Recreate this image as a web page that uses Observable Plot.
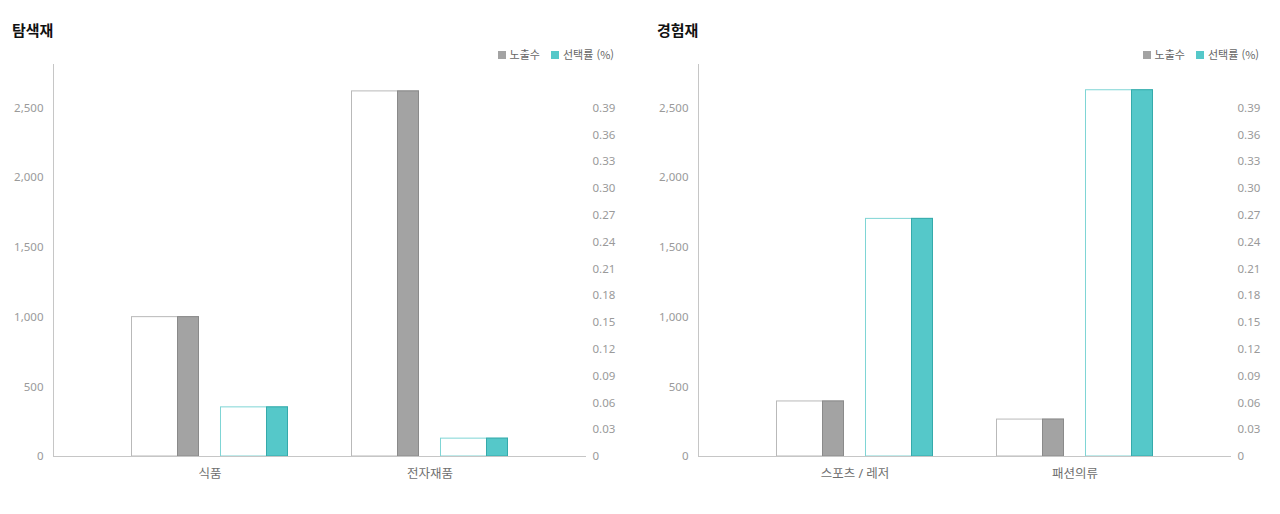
<!DOCTYPE html>
<html lang="ko">
<head>
<meta charset="utf-8">
<script src="https://cdn.jsdelivr.net/npm/d3@7"></script>
<script src="https://cdn.jsdelivr.net/npm/@observablehq/plot@0.6"></script>
<style>
  html, body { margin: 0; padding: 0; background: #fff; overflow: hidden; }
  body { width: 1280px; height: 514px; position: relative; font-family: "Noto Sans", "Noto Sans CJK KR", sans-serif; }
  .panel { position: absolute; top: 0; width: 640px; }
  .title { height: 46px; box-sizing: border-box; padding-top: 20px; padding-left: 12px; line-height: 20px;
           font-size: 15px; font-weight: bold; color: #111; font-family: "Noto Sans CJK KR", "Noto Sans", sans-serif; }
  .legend { height: 16px; line-height: 16px; font-size: 11px; color: #666; text-align: right; padding-right: 26px;
            font-family: "Noto Sans CJK KR", "Noto Sans", sans-serif; white-space: nowrap; }
  .legend .item { display: inline-block; margin-left: 11px; }
  .legend .sw { display: inline-block; width: 8px; height: 8px; margin-right: 4px; vertical-align: 0px; }
  svg { display: block; }
</style>
</head>
<body>
<script>
// ---- data ----
const titles = ["탐색재", "경험재"];
const seriesNames = ["노출수", "선택률 (%)"];
const leftCats = ["식품", "전자재품"];
const leftExposure = [1000, 2620];
const leftRate = [0.055, 0.02];
const rightCats = ["스포츠 / 레저", "패션의류"];
const rightExposure = [395, 265];
const rightRate = [0.266, 0.41];
const countTicks = [0, 500, 1000, 1500, 2000, 2500];
const rateTicks = [0, 0.03, 0.06, 0.09, 0.12, 0.15, 0.18, 0.21, 0.24, 0.27, 0.30, 0.33, 0.36, 0.39];

// ---- style ----
const grayFill = "#a3a3a3", grayEdge = "#8a8a8a", grayBox = "#b9b9b9";
const tealFill = "#55c8c9", tealEdge = "#35aaab", tealBox = "#7fd5d5";
const axisColor = "#c6c6c6";
const countMax = 2813;                 // top of left axis line
const rateToCount = 2500 / 0.39;       // right axis 0.39 aligns with 2,500
const BAR = 67, GAP = 22, STRIP = 21;  // pixel widths inside a category band

function panel(left, title, cats, exposure, rate) {
  const div = document.createElement("div");
  div.className = "panel";
  div.style.left = left + "px";
  const t = document.createElement("div");
  t.className = "title";
  t.textContent = title;
  div.appendChild(t);
  const lg = document.createElement("div");
  lg.className = "legend";
  lg.innerHTML =
    `<span class="item"><span class="sw" style="background:${grayFill}"></span>${seriesNames[0]}</span>` +
    `<span class="item"><span class="sw" style="background:${tealFill}"></span>${seriesNames[1]}</span>`;
  div.appendChild(lg);

  const rows = cats.map((c, i) => ({cat: c, exposure: exposure[i], rate: rate[i], rateY: rate[i] * rateToCount}));
  const band = BAR + GAP + BAR;

  const chart = Plot.plot({
    width: 640,
    height: 452,
    marginLeft: 53,
    marginRight: 54,
    marginTop: 2,
    marginBottom: 58,
    style: {fontFamily: "'Noto Sans', 'Noto Sans CJK KR', sans-serif", fontSize: "11.5px", background: "#fff", overflow: "visible"},
    x: {domain: cats, paddingInner: 0.2909, paddingOuter: 0.3568, align: 0.5, round: false, label: null},
    y: {domain: [0, countMax], label: null},
    marks: [
      // 노출수 : outlined box + filled strip
      Plot.barY(rows, {x: "cat", y: "exposure", fill: "#fff", stroke: grayBox, insetRight: band - BAR}),
      Plot.barY(rows, {x: "cat", y: "exposure", fill: grayFill, stroke: grayEdge, insetLeft: BAR - STRIP, insetRight: band - BAR}),
      // 선택률 : outlined box + filled strip (right axis scale)
      Plot.barY(rows, {x: "cat", y: "rateY", fill: "#fff", stroke: tealBox, insetLeft: BAR + GAP}),
      Plot.barY(rows, {x: "cat", y: "rateY", fill: tealFill, stroke: tealEdge, insetLeft: BAR + GAP + BAR - STRIP}),
      Plot.ruleY([0], {stroke: axisColor}),
      Plot.frame({anchor: "left", stroke: axisColor}),
      Plot.axisY({anchor: "left", ticks: countTicks, tickFormat: d3.format(","), tickSize: 0, tickPadding: 10, color: "#9a9a9a", fontSize: 11.5}),
      Plot.axisY({anchor: "right", ticks: rateTicks.map(v => v * rateToCount),
                  tickFormat: d => { const v = d / rateToCount; return Math.abs(v) < 1e-9 ? "0" : v.toFixed(2); },
                  tickSize: 0, tickPadding: 6, color: "#9a9a9a", fontSize: 11.5}),
      Plot.axisX({tickSize: 0, tickPadding: 13, color: "#6f6f6f", fontSize: 12.5})
    ]
  });
  div.appendChild(chart);
  document.body.appendChild(div);
}

panel(0, titles[0], leftCats, leftExposure, leftRate);
panel(645, titles[1], rightCats, rightExposure, rightRate);
</script>
</body>
</html>
